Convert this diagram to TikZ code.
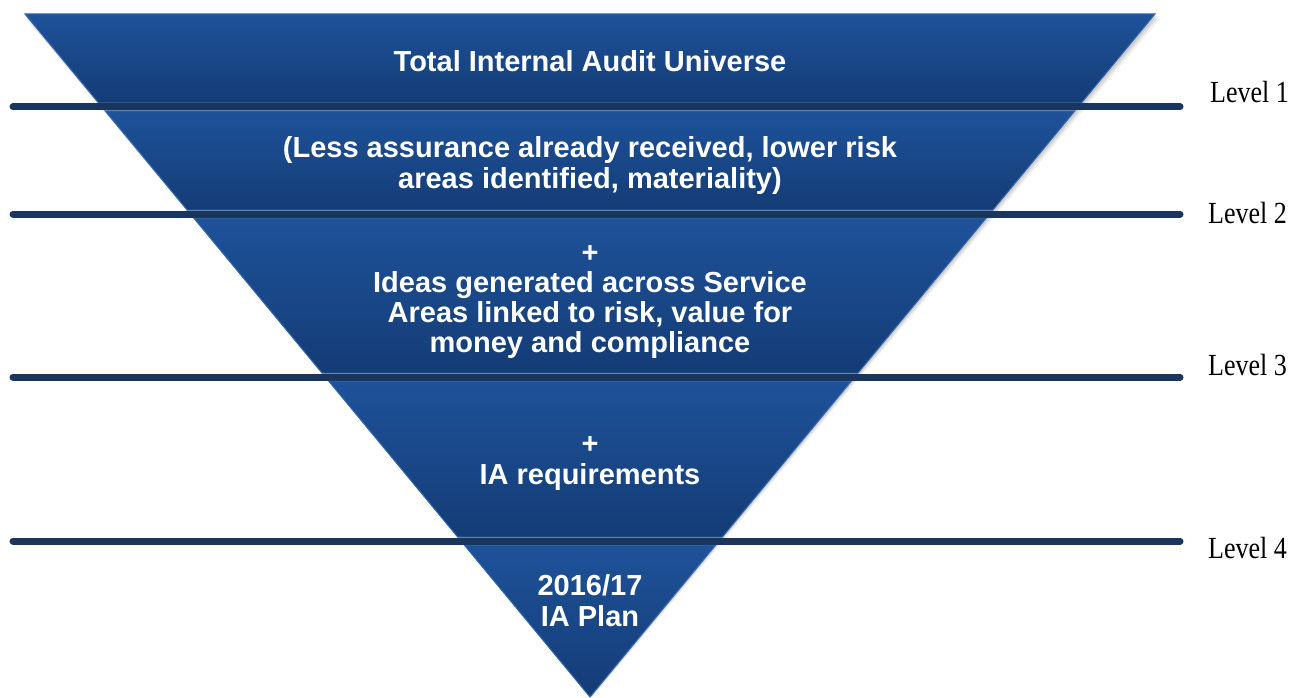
\documentclass[tikz,border=0pt]{standalone}
\usepackage{fontspec}
\setmainfont{Liberation Serif}
\newfontfamily\funnelsans{Liberation Sans}
\definecolor{segtop}{HTML}{1E5299}
\definecolor{segbot}{HTML}{143C76}
\definecolor{segedge}{HTML}{3468AE}
\definecolor{rulecol}{HTML}{1B365D}
\newcommand{\tallcaption}[1]{\scalebox{1}[1.18]{#1}}
\begin{document}
\begin{tikzpicture}[x=1pt,y=-1pt,
  declare function={xl(\v)=590-0.82723*(697-\v); xr(\v)=590+0.82723*(697-\v);},
  segment/.style={top color=segtop, bottom color=segbot, draw=segedge, line width=1pt},
  levelrule/.style={draw=rulecol, line width=7pt, line cap=round},
  boxtext/.style={text=white, font=\funnelsans\bfseries\fontsize{29}{30.5}\selectfont,
    align=center, anchor=base, inner sep=0pt},
  leveltext/.style={font=\fontsize{26}{28}\selectfont, anchor=base west, inner sep=0pt}]
\useasboundingbox (0,0) rectangle (1293,698);

% soft shadow behind the funnel
\foreach \o/\op in {5/0.05,3.5/0.07,2/0.09}
  \fill[black, opacity=\op] ({xl(14)+\o*0.3},14+\o) -- ({xr(14)+\o},14+\o) -- (590+\o*0.5,697) -- cycle;

% funnel segments
\path[segment] ({xl(14)},14) -- ({xr(14)},14) -- ({xr(103)},103) -- ({xl(103)},103) -- cycle;
\path[segment] ({xl(111)},111) -- ({xr(111)},111) -- ({xr(210)},210) -- ({xl(210)},210) -- cycle;
\path[segment] ({xl(218)},218) -- ({xr(218)},218) -- ({xr(373)},373) -- ({xl(373)},373) -- cycle;
\path[segment] ({xl(381)},381) -- ({xr(381)},381) -- ({xr(537)},537) -- ({xl(537)},537) -- cycle;
\path[segment] ({xl(545)},545) -- ({xr(545)},545) -- (590,697) -- cycle;

% level rules
\coordinate (r1a) at (13,107);  \coordinate (r1b) at (1180,107);
\coordinate (r2a) at (13,214);  \coordinate (r2b) at (1180,214);
\coordinate (r3a) at (13,377);  \coordinate (r3b) at (1180,377);
\coordinate (r4a) at (13,541);  \coordinate (r4b) at (1180,541);
\draw[levelrule] (r1a) -- (r1b);
\draw[levelrule] (r2a) -- (r2b);
\draw[levelrule] (r3a) -- (r3b);
\draw[levelrule] (r4a) -- (r4b);

% level labels
\node[leveltext] (lv1) at (1210,103) {\tallcaption{Level 1}};
\node[leveltext] (lv2) at (1208,223) {\tallcaption{Level 2}};
\node[leveltext] (lv3) at (1208,375) {\tallcaption{Level 3}};
\node[leveltext] (lv4) at (1208,558) {\tallcaption{Level 4}};

% segment texts (anchored at the baseline of their last line)
\node[boxtext] (t1) at (590,72) {Total Internal Audit Universe};
\node[boxtext, font=\funnelsans\bfseries\fontsize{29}{31}\selectfont] (t2) at (590,188)
  {(Less assurance already received, lower risk\\areas identified, materiality)};
\node[boxtext, font=\funnelsans\bfseries\fontsize{29}{30}\selectfont] (t3) at (590,352)
  {+\\Ideas generated across Service\\Areas linked to risk, value for\\money and compliance};
\node[boxtext] (t4) at (590,484) {+\\IA requirements};
\node[boxtext] (t5) at (590,626) {2016/17\\IA Plan};
\end{tikzpicture}
\end{document}
